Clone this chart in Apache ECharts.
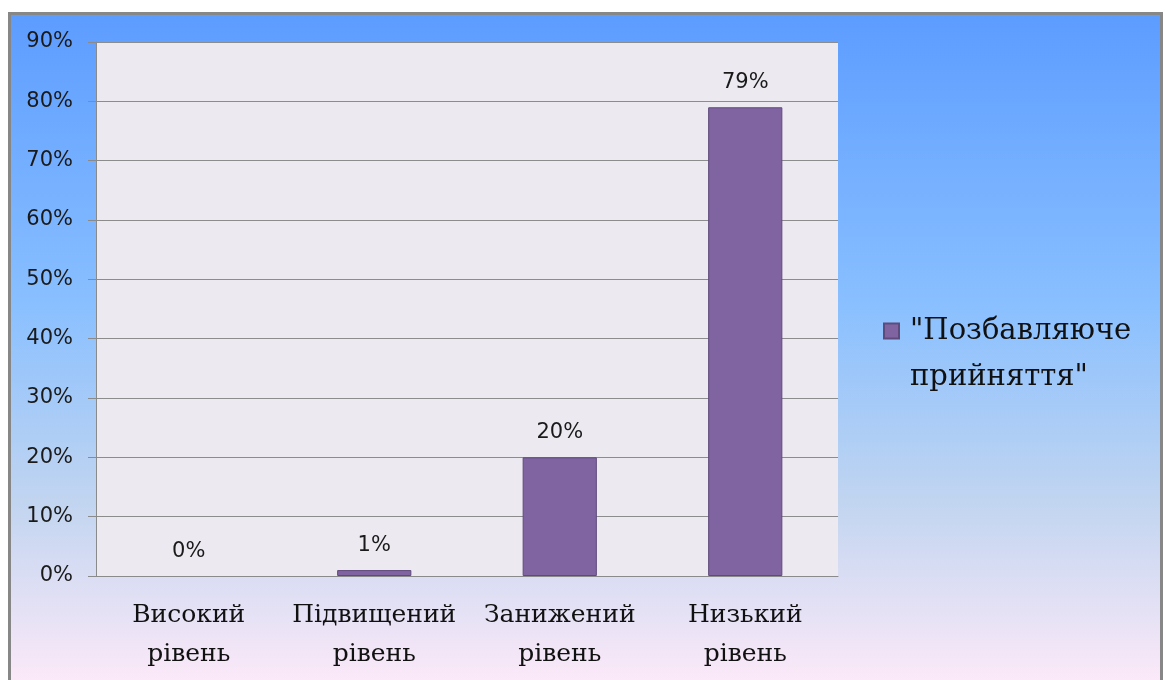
<!DOCTYPE html>
<html><head><meta charset="utf-8">
<script src="https://cdn.jsdelivr.net/npm/echarts@6/dist/echarts.min.js"></script>
<style>html,body{margin:0;padding:0;background:#fff}#c{width:1166px;height:680px}</style>
</head><body><div id="c"></div>
<script>
const categories = ['Високий\nрівень', 'Підвищений\nрівень', 'Занижений\nрівень', 'Низький\nрівень'];
const values = [0, 1, 20, 79];
const seriesName = '"Позбавляюче прийняття"';
const legendLines = ['"Позбавляюче', 'прийняття"'];
const yTicks = {min: 0, max: 90, interval: 10};

const chart = echarts.init(document.getElementById('c'), null, {renderer: 'canvas'});
chart.setOption({
  animation: false,
  backgroundColor: '#ffffff',
  graphic: [{
    type: 'rect', z: -10, silent: true,
    shape: {x: 9.5, y: 13.5, width: 1152, height: 700},
    style: {
      stroke: '#878787', lineWidth: 3,
      fill: {type: 'linear', x: 0, y: 0, x2: 0, y2: 1, colorStops: [
        {offset: 0, color: '#5c9cff'},
        {offset: 0.42, color: '#8ac0ff'},
        {offset: 0.7, color: '#c2d5f0'},
        {offset: 0.95, color: '#fbe9f8'},
        {offset: 1, color: '#fde9f8'}
      ]}
    }
  }],
  grid: {left: 96, right: 328, top: 42, bottom: 104, show: true, backgroundColor: '#ECEAF0', borderWidth: 0},
  legend: {
    left: 883, top: 262, orient: 'vertical', padding: 0,
    itemWidth: 15, itemHeight: 15, itemGap: 10,
    icon: 'rect',
    formatter: () => '{s| }\n{a|' + legendLines[0] + '}\n{a|' + legendLines[1] + '}',
    textStyle: {
      fontFamily: 'DejaVu Serif', fontSize: 29, color: '#111',
      rich: {
        s: {height: 46, lineHeight: 46, fontSize: 10},
        a: {fontFamily: 'DejaVu Serif', fontSize: 29, color: '#111', lineHeight: 46, height: 46, padding: [0, 0, 0, 6]}
      }
    },
    data: [seriesName]
  },
  xAxis: {
    type: 'category', data: categories,
    axisLine: {lineStyle: {color: '#8a8a8a', width: 1}},
    axisTick: {length: 8, lineStyle: {color: '#8a8a8a'}},
    axisLabel: {fontFamily: 'DejaVu Serif', fontSize: 25, color: '#111', lineHeight: 39, margin: 20, interval: 0}
  },
  yAxis: {
    type: 'value', min: yTicks.min, max: yTicks.max, interval: yTicks.interval,
    axisLine: {show: true, lineStyle: {color: '#8a8a8a', width: 1}},
    axisTick: {show: true, length: 8, lineStyle: {color: '#8a8a8a'}},
    splitLine: {lineStyle: {color: '#8c8c8c', width: 1}},
    axisLabel: {formatter: '{value}%', fontFamily: 'DejaVu Sans', fontSize: 21, color: '#1a1a1a', margin: 23, padding: [4, 0, 0, 0]}
  },
  series: [{
    name: seriesName, type: 'bar', barWidth: '40%',
    data: values.map(v => v === 0 ? {value: v, itemStyle: {borderWidth: 0}} : v),
    itemStyle: {color: '#8064A2', borderColor: '#5f4a7c', borderWidth: 1},
    label: {show: true, position: 'top', distance: 14, formatter: '{c}%', fontFamily: 'DejaVu Sans', fontSize: 21, color: '#1a1a1a'}
  }]
});
</script></body></html>
